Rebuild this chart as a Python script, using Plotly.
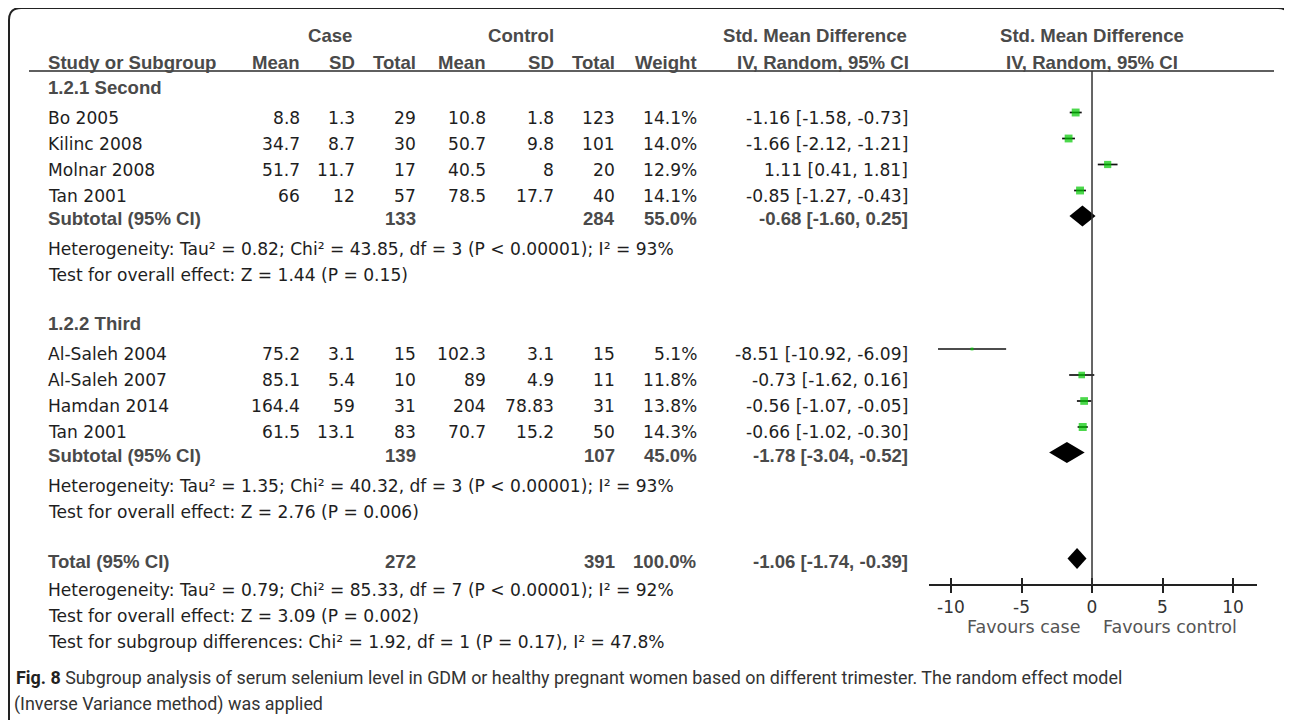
import plotly.graph_objects as go

# page pixels: the figure sits 8px in from the page's top-left corner
OFF = 8
SW, SH = 1292, 720
W, H = SW - OFF, SH - OFF

# ---------------- data ----------------
studies = ["Bo 2005", "Kilinc 2008", "Molnar 2008", "Tan 2001",
           "Al-Saleh 2004", "Al-Saleh 2007", "Hamdan 2014", "Tan 2001"]
study_group = [0, 0, 0, 0, 1, 1, 1, 1]
case_mean = [8.8, 34.7, 51.7, 66, 75.2, 85.1, 164.4, 61.5]
case_sd = [1.3, 8.7, 11.7, 12, 3.1, 5.4, 59, 13.1]
case_n = [29, 30, 17, 57, 15, 10, 31, 83]
ctrl_mean = [10.8, 50.7, 40.5, 78.5, 102.3, 89, 204, 70.7]
ctrl_sd = [1.8, 9.8, 8, 17.7, 3.1, 4.9, 78.83, 15.2]
ctrl_n = [123, 101, 20, 40, 15, 11, 31, 50]
weight = [14.1, 14.0, 12.9, 14.1, 5.1, 11.8, 13.8, 14.3]
smd = [-1.16, -1.66, 1.11, -0.85, -8.51, -0.73, -0.56, -0.66]
ci_lo = [-1.58, -2.12, 0.41, -1.27, -10.92, -1.62, -1.07, -1.02]
ci_hi = [-0.73, -1.21, 1.81, -0.43, -6.09, 0.16, -0.05, -0.30]

group_names = ["1.2.1 Second", "1.2.2 Third"]
group_case_n = [133, 139]
group_ctrl_n = [284, 107]
group_weight = [55.0, 45.0]
group_smd = [-0.68, -1.78]
group_lo = [-1.60, -3.04]
group_hi = [0.25, -0.52]
group_het = ["Heterogeneity: Tau² = 0.82; Chi² = 43.85, df = 3 (P < 0.00001); I² = 93%",
             "Heterogeneity: Tau² = 1.35; Chi² = 40.32, df = 3 (P < 0.00001); I² = 93%"]
group_test = ["Test for overall effect: Z = 1.44 (P = 0.15)",
              "Test for overall effect: Z = 2.76 (P = 0.006)"]

total_case_n = 272
total_ctrl_n = 391
total_weight = 100.0
total_smd = -1.06
total_lo = -1.74
total_hi = -0.39
total_het = "Heterogeneity: Tau² = 0.79; Chi² = 85.33, df = 7 (P < 0.00001); I² = 92%"
total_test = "Test for overall effect: Z = 3.09 (P = 0.002)"
subgroup_diff = "Test for subgroup differences: Chi² = 1.92, df = 1 (P = 0.17), I² = 47.8%"

tick_vals = [-10, -5, 0, 5, 10]
favours = ["Favours case", "Favours control"]
caption_bold = "Fig. 8"
caption_line1 = (" Subgroup analysis of serum selenium level in GDM or healthy pregnant women based on "
                 "different trimester. The random effect model")
caption_line2 = "(Inverse Variance method) was applied"

# ---------------- layout / style ----------------
REG = dict(family="DejaVu Sans", size=17.1, color="#1e1e1e")
BOLD = dict(family="Liberation Sans", size=18.6, color="#4a4a4a", weight="bold")
CAP = dict(family="Roboto", size=17.9, color="#333")
GREEN = "#00c800"

# column right edges (page px)
COL_X = dict(cmean=302, csd=357, cn=418, kmean=488, ksd=556, kn=617, w=699, ci=910)
NAME_X = 46
GROUP_TOP = [87, 323.5]
STUDY_GAP0, PITCH, SUB_GAP, HET_GAP = 30.5, 26, 23, 30.5
TOTAL_Y = 561
MARK_DY, DIA_DY, DIA_H = -5, -2.5, 10.5
AXIS_Y = 585
X_LEFT_PX, X_RIGHT_PX = 929, 1257
X_RANGE = [-11.56, 11.70]

fig = go.Figure()
ann = []


def txt(x, y, s, font, anchor="right"):
    ann.append(dict(x=x, y=y, xref="x3", yref="y", text=s, showarrow=False,
                    xanchor=anchor, yanchor="middle", font=font))


def g(v):
    return f"{v:g}"


def ci(e, lo, hi):
    return f"{e:.2f} [{lo:.2f}, {hi:.2f}]"


# headers
txt(330, 35, "Case", BOLD, "center")
txt(521, 35, "Control", BOLD, "center")
txt(815, 35, "Std. Mean Difference", BOLD, "center")
txt(1092, 35, "Std. Mean Difference", BOLD, "center")
txt(NAME_X, 62, "Study or Subgroup", BOLD, "left")
for key, lab in [("cmean", "Mean"), ("csd", "SD"), ("cn", "Total"), ("kmean", "Mean"),
                 ("ksd", "SD"), ("kn", "Total"), ("w", "Weight")]:
    txt(COL_X[key], 62, lab, BOLD)
txt(823, 62, "IV, Random, 95% CI", BOLD, "center")
txt(1092, 62, "IV, Random, 95% CI", BOLD, "center")

study_y = []
sub_y = []
for gi in range(2):
    top = GROUP_TOP[gi]
    txt(NAME_X, top, group_names[gi], BOLD, "left")
    idx = [i for i, s in enumerate(study_group) if s == gi]
    for k, i in enumerate(idx):
        yy = top + STUDY_GAP0 + PITCH * k
        study_y.append(yy)
        txt(NAME_X, yy, studies[i], REG, "left")
        txt(COL_X["cmean"], yy, g(case_mean[i]), REG)
        txt(COL_X["csd"], yy, g(case_sd[i]), REG)
        txt(COL_X["cn"], yy, g(case_n[i]), REG)
        txt(COL_X["kmean"], yy, g(ctrl_mean[i]), REG)
        txt(COL_X["ksd"], yy, g(ctrl_sd[i]), REG)
        txt(COL_X["kn"], yy, g(ctrl_n[i]), REG)
        txt(COL_X["w"], yy, f"{weight[i]:.1f}%", REG)
        txt(COL_X["ci"], yy, ci(smd[i], ci_lo[i], ci_hi[i]), REG)
    ys = study_y[-1] + SUB_GAP
    sub_y.append(ys)
    txt(NAME_X, ys, "Subtotal (95% CI)", BOLD, "left")
    txt(COL_X["cn"], ys, g(group_case_n[gi]), BOLD)
    txt(COL_X["kn"], ys, g(group_ctrl_n[gi]), BOLD)
    txt(COL_X["w"], ys, f"{group_weight[gi]:.1f}%", BOLD)
    txt(COL_X["ci"], ys, ci(group_smd[gi], group_lo[gi], group_hi[gi]), BOLD)
    txt(NAME_X, ys + HET_GAP, group_het[gi], REG, "left")
    txt(NAME_X, ys + HET_GAP + PITCH, group_test[gi], REG, "left")

txt(NAME_X, TOTAL_Y, "Total (95% CI)", BOLD, "left")
txt(COL_X["cn"], TOTAL_Y, g(total_case_n), BOLD)
txt(COL_X["kn"], TOTAL_Y, g(total_ctrl_n), BOLD)
txt(COL_X["w"], TOTAL_Y, f"{total_weight:.1f}%", BOLD)
txt(COL_X["ci"], TOTAL_Y, ci(total_smd, total_lo, total_hi), BOLD)
txt(NAME_X, TOTAL_Y + 29, total_het, REG, "left")
txt(NAME_X, TOTAL_Y + 55, total_test, REG, "left")
txt(NAME_X, TOTAL_Y + 81, subgroup_diff, REG, "left")

# favours labels
FAV = dict(family="DejaVu Sans", size=17.5, color="#555")
txt(1023, 627, favours[0], FAV, "center")
txt(1170, 627, favours[1], FAV, "center")

# caption
txt(14, 677, f"<b style='color:#222'>{caption_bold}</b>{caption_line1}", CAP, "left")
txt(12, 704, caption_line2, CAP, "left")

# ---------------- forest marks ----------------
my = [y + MARK_DY for y in study_y]
fig.add_trace(go.Scatter(
    x=smd, y=my, mode="markers", xaxis="x", yaxis="y",
    marker=dict(symbol="square", size=[w * 0.56 for w in weight], color=GREEN,
                line=dict(width=0)),
    error_x=dict(type="data", symmetric=False,
                 array=[h - e for h, e in zip(ci_hi, smd)],
                 arrayminus=[e - l for e, l in zip(smd, ci_lo)],
                 width=0, thickness=1.7, color="#111"),
    hoverinfo="skip", showlegend=False))

dia_e = group_smd + [total_smd]
dia_lo = group_lo + [total_lo]
dia_hi = group_hi + [total_hi]
dia_y = [y + DIA_DY for y in sub_y] + [TOTAL_Y + DIA_DY]
for e, lo, hi, yc in zip(dia_e, dia_lo, dia_hi, dia_y):
    fig.add_trace(go.Scatter(
        x=[lo, e, hi, e, lo], y=[yc, yc - DIA_H, yc, yc + DIA_H, yc],
        mode="lines", fill="toself", fillcolor="black", line=dict(width=0, color="black"),
        xaxis="x", yaxis="y", hoverinfo="skip", showlegend=False))

# invisible traces to bind helper axes
fig.add_trace(go.Scatter(x=[0], y=[-50], xaxis="x2", yaxis="y", mode="markers",
                         marker=dict(opacity=0), showlegend=False, hoverinfo="skip"))
fig.add_trace(go.Scatter(x=[100], y=[-50], xaxis="x3", yaxis="y", mode="markers",
                         marker=dict(opacity=0), showlegend=False, hoverinfo="skip"))

shapes = []
# header rule
shapes.append(dict(type="line", xref="x3", yref="y", x0=29, x1=1274, y0=71, y1=71,
                   line=dict(color="#2a2a2a", width=1.6)))
# line of no effect
shapes.append(dict(type="line", xref="x", yref="y", x0=0, x1=0, y0=71, y1=AXIS_Y,
                   line=dict(color="#333", width=1.5)))
# frame with rounded corners
r = 12
L, T, R = 9, 8, SW - 2
fr = f"M {L},{SH + 5} L {L},{T + r} Q {L},{T} {L + r},{T} L {R - r},{T} Q {R},{T} {R},{T + r} L {R},{SH + 5}"
shapes.append(dict(type="path", xref="x3", yref="y", path=fr,
                   line=dict(color="#222", width=2)))

pos = (SH - AXIS_Y) / H
dom = [(X_LEFT_PX - OFF) / W, (X_RIGHT_PX - OFF) / W]
fig.update_layout(
    width=W, height=H, margin=dict(l=0, r=0, t=0, b=0),
    paper_bgcolor="white", plot_bgcolor="rgba(0,0,0,0)",
    xaxis=dict(domain=dom, range=X_RANGE, anchor="free", position=pos,
               showline=True, linecolor="#222", linewidth=1.5,
               ticks="outside", ticklen=7, tickwidth=1.5, tickcolor="#222",
               tickvals=tick_vals, ticktext=[g(v) for v in tick_vals],
               tickfont=dict(family="DejaVu Sans", size=17, color="#333"),
               showgrid=False, zeroline=False, fixedrange=True),
    xaxis2=dict(domain=dom, range=X_RANGE, anchor="free", position=pos, overlaying="x",
                showline=False, ticks="inside", ticklen=7, tickwidth=1.5, tickcolor="#222",
                tickvals=tick_vals, showticklabels=False, showgrid=False, zeroline=False),
    xaxis3=dict(domain=[0, 1], range=[OFF, SW], visible=False, anchor="y"),
    yaxis=dict(domain=[0, 1], range=[SH, OFF], visible=False, fixedrange=True),
    annotations=ann, shapes=shapes,
)

fig.write_html("out.html")
